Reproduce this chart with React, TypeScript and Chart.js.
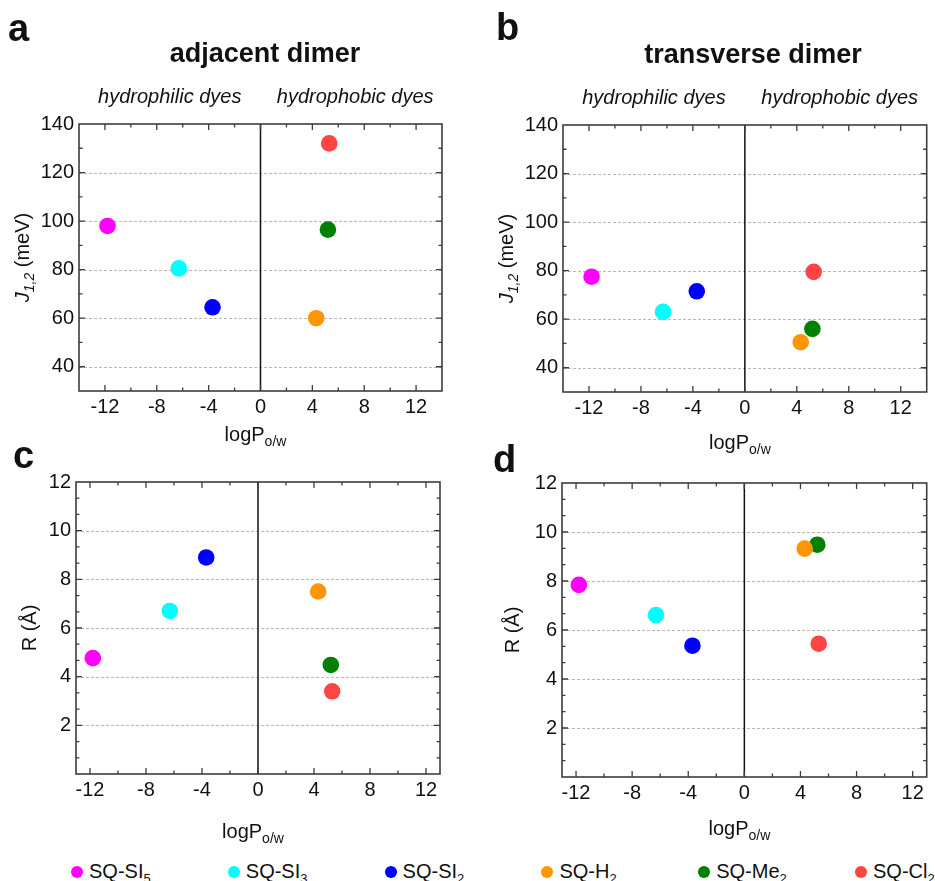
import React, { useEffect, useRef } from 'react';
import { Chart, registerables } from 'chart.js';

Chart.register(...registerables);

const FONT = '"Liberation Sans", Arial, Helvetica, sans-serif';

// ---- data ----
const dyeBase = ['SQ-SI', 'SQ-SI', 'SQ-SI', 'SQ-H', 'SQ-Me', 'SQ-Cl'];
const dyeSub = ['5', '3', '2', '2', '2', '2'];
const dyeColors = ['#ff00ff', '#00ffff', '#0000ff', '#ff9500', '#008000', '#ff4444'];
const logP = [-11.8, -6.3, -3.7, 4.3, 5.2, 5.3];
const jAdjacent = [98, 80.5, 64.5, 60, 96.5, 132];
const jTransverse = [77.5, 63, 71.5, 50.5, 56, 79.5];
const rAdjacent = [4.76, 6.7, 8.9, 7.5, 4.48, 3.4];
const rTransverse = [7.84, 6.61, 5.36, 9.32, 9.48, 5.44];

const xTicks = [-12, -8, -4, 0, 4, 8, 12];
const jTicks = [40, 60, 80, 100, 120, 140];
const rTicks = [2, 4, 6, 8, 10, 12];
const regionLabels = ['hydrophilic dyes', 'hydrophobic dyes'];
const regionCenters = [-7, 7.3];

type Box = { left: number; top: number; width: number; height: number };
type Area = { left: number; top: number; right: number; bottom: number };
type PanelSpec = {
  key: string;
  letter: string;
  title?: string;
  values: number[];
  yKind: 'J' | 'R';
  yTicks: number[];
  yMin: number;
  yMax: number;
  yMinorCount: number;
  xMin: number;
  xMax: number;
  canvas: Box;
  area: Area;
  letterPos: [number, number];
  titlePos?: [number, number];
  xTitleY: number;
  yTitleOffset: number;
};

const panels: PanelSpec[] = [
  {
    key: 'a', letter: 'a', title: 'adjacent dimer', values: jAdjacent, yKind: 'J',
    yTicks: jTicks, yMin: 30, yMax: 140, yMinorCount: 1, xMin: -14, xMax: 14,
    canvas: { left: 0, top: 0, width: 470, height: 455 },
    area: { left: 79, top: 124, right: 442, bottom: 391 },
    letterPos: [8, 41], titlePos: [265, 62], xTitleY: 441, yTitleOffset: 50,
  },
  {
    key: 'b', letter: 'b', title: 'transverse dimer', values: jTransverse, yKind: 'J',
    yTicks: jTicks, yMin: 30, yMax: 140, yMinorCount: 1, xMin: -14, xMax: 14,
    canvas: { left: 470, top: 0, width: 465, height: 455 },
    area: { left: 93, top: 125, right: 457, bottom: 392 },
    letterPos: [26, 40], titlePos: [283, 63], xTitleY: 449, yTitleOffset: 50,
  },
  {
    key: 'c', letter: 'c', values: rAdjacent, yKind: 'R',
    yTicks: rTicks, yMin: 0, yMax: 12, yMinorCount: 2, xMin: -13, xMax: 13,
    canvas: { left: 0, top: 440, width: 470, height: 405 },
    area: { left: 76, top: 42, right: 440, bottom: 334 },
    letterPos: [13, 28], xTitleY: 398, yTitleOffset: 40,
  },
  {
    key: 'd', letter: 'd', values: rTransverse, yKind: 'R',
    yTicks: rTicks, yMin: 0, yMax: 12, yMinorCount: 2, xMin: -13, xMax: 13,
    canvas: { left: 470, top: 440, width: 465, height: 405 },
    area: { left: 92, top: 43, right: 457, bottom: 337 },
    letterPos: [23, 32], xTitleY: 395, yTitleOffset: 43,
  },
];

type Seg = { t: string; size: number; style?: string; weight?: string; dy?: number };

function fontOf(s: Seg) {
  return `${s.style || 'normal'} ${s.weight || 'normal'} ${s.size}px ${FONT}`;
}

function drawRich(ctx: CanvasRenderingContext2D, segs: Seg[], x: number, y: number, align: 'center' | 'left', rot = 0) {
  ctx.save();
  ctx.translate(x, y);
  ctx.rotate(rot);
  ctx.textBaseline = 'alphabetic';
  ctx.textAlign = 'left';
  ctx.fillStyle = '#111';
  const widths = segs.map((s) => {
    ctx.font = fontOf(s);
    return ctx.measureText(s.t).width;
  });
  const total = widths.reduce((a, b) => a + b, 0);
  let cx = align === 'center' ? -total / 2 : 0;
  segs.forEach((s, i) => {
    ctx.font = fontOf(s);
    ctx.fillText(s.t, cx, s.dy || 0);
    cx += widths[i];
  });
  ctx.restore();
}

function minorValues(majors: number[], count: number, min: number, max: number) {
  const step = majors[1] - majors[0];
  const sub = step / (count + 1);
  const out: number[] = [];
  for (let k = -40; k < 200; k++) {
    if (k % (count + 1) === 0) continue;
    const v = majors[0] + k * sub;
    if (v >= min - 1e-9 && v <= max + 1e-9) out.push(v);
  }
  return out;
}

function framePlugin(p: PanelSpec) {
  return {
    id: 'frame_' + p.key,
    beforeDatasetsDraw(chart: any) {
      const { ctx, chartArea: a, scales } = chart;
      const ys = scales.y;
      const xs = scales.x;
      ctx.save();
      ctx.strokeStyle = '#b8b8b8';
      ctx.lineWidth = 1;
      ctx.setLineDash([3, 2]);
      p.yTicks.forEach((v) => {
        const py = Math.round(ys.getPixelForValue(v)) + 0.5;
        if (py > a.top + 2 && py < a.bottom - 2) {
          ctx.beginPath();
          ctx.moveTo(a.left, py);
          ctx.lineTo(a.right, py);
          ctx.stroke();
        }
      });
      ctx.setLineDash([]);
      ctx.strokeStyle = '#111';
      ctx.lineWidth = 1.5;
      const x0 = xs.getPixelForValue(0);
      ctx.beginPath();
      ctx.moveTo(x0, a.top);
      ctx.lineTo(x0, a.bottom);
      ctx.stroke();
      ctx.restore();
    },
    afterDatasetsDraw(chart: any) {
      const { ctx, chartArea: a, scales } = chart;
      const xs = scales.x;
      const ys = scales.y;
      ctx.save();
      ctx.strokeStyle = '#3c3c3c';
      ctx.lineWidth = 1.6;
      ctx.strokeRect(a.left, a.top, a.right - a.left, a.bottom - a.top);
      const drawX = (vals: number[], len: number) => {
        vals.forEach((v) => {
          const px = xs.getPixelForValue(v);
          if (px < a.left + 1 || px > a.right - 1) return;
          ctx.beginPath();
          ctx.moveTo(px, a.bottom);
          ctx.lineTo(px, a.bottom - len);
          ctx.moveTo(px, a.top);
          ctx.lineTo(px, a.top + len);
          ctx.stroke();
        });
      };
      const drawY = (vals: number[], len: number) => {
        vals.forEach((v) => {
          const py = ys.getPixelForValue(v);
          if (py < a.top + 1 || py > a.bottom - 1) return;
          ctx.beginPath();
          ctx.moveTo(a.left, py);
          ctx.lineTo(a.left + len, py);
          ctx.moveTo(a.right, py);
          ctx.lineTo(a.right - len, py);
          ctx.stroke();
        });
      };
      ctx.lineWidth = 1.3;
      drawX(xTicks, 6);
      drawX(minorValues(xTicks, 1, p.xMin, p.xMax), 3.5);
      drawY(p.yTicks, 6);
      drawY(minorValues(p.yTicks, p.yMinorCount, p.yMin, p.yMax), 3.5);
      ctx.restore();
    },
    afterDraw(chart: any) {
      const { ctx, chartArea: a, scales } = chart;
      const xs = scales.x;
      const cx = (a.left + a.right) / 2;
      const cy = (a.top + a.bottom) / 2;
      // panel letter
      drawRich(ctx, [{ t: p.letter, size: 38, weight: 'bold' }], p.letterPos[0], p.letterPos[1], 'left');
      if (p.title && p.titlePos) {
        drawRich(ctx, [{ t: p.title, size: 27, weight: 'bold' }], p.titlePos[0], p.titlePos[1], 'center');
        regionLabels.forEach((lab, i) => {
          drawRich(ctx, [{ t: lab, size: 20, style: 'italic' }], xs.getPixelForValue(regionCenters[i]), a.top - 21, 'center');
        });
      }
      // x title
      drawRich(
        ctx,
        [
          { t: 'logP', size: 20 },
          { t: 'o/w', size: 14, dy: 5 },
        ],
        cx - 5,
        p.xTitleY,
        'center'
      );
      // y title
      const ySegs: Seg[] =
        p.yKind === 'J'
          ? [
              { t: 'J', size: 20, style: 'italic' },
              { t: '1,2', size: 14, style: 'italic', dy: 5 },
              { t: ' (meV)', size: 20 },
            ]
          : [{ t: 'R (\u00c5)', size: 20 }];
      drawRich(ctx, ySegs, a.left - p.yTitleOffset, cy, 'center', -Math.PI / 2);
    },
  };
}

function buildConfig(p: PanelSpec): any {
  const datasets = logP.map((x, i) => ({
    label: dyeBase[i] + dyeSub[i],
    data: [{ x, y: p.values[i] }],
    backgroundColor: dyeColors[i],
    borderColor: dyeColors[i],
    borderWidth: 0,
    pointRadius: 8.3,
    pointHoverRadius: 8.3,
  }));
  const tickFont = { family: FONT, size: 20 };
  return {
    type: 'scatter',
    data: { datasets },
    options: {
      animation: false,
      responsive: false,
      maintainAspectRatio: false,
      events: [],
      layout: {
        padding: { left: 0, top: p.area.top, right: p.canvas.width - p.area.right, bottom: 0 },
      },
      plugins: { legend: { display: false }, tooltip: { enabled: false }, title: { display: false } },
      scales: {
        x: {
          type: 'linear',
          position: 'bottom',
          min: p.xMin,
          max: p.xMax,
          afterBuildTicks: (s: any) => {
            s.ticks = xTicks.map((v) => ({ value: v }));
          },
          afterFit: (s: any) => {
            s.height = p.canvas.height - p.area.bottom;
          },
          grid: { display: false, drawTicks: false },
          border: { display: false },
          ticks: {
            font: tickFont,
            color: '#111',
            padding: 4,
            maxRotation: 0,
            autoSkip: false,
            callback: (v: any) => String(v),
          },
        },
        y: {
          type: 'linear',
          position: 'left',
          min: p.yMin,
          max: p.yMax,
          afterBuildTicks: (s: any) => {
            s.ticks = p.yTicks.map((v) => ({ value: v }));
          },
          afterFit: (s: any) => {
            s.width = p.area.left;
          },
          grid: { display: false, drawTicks: false },
          border: { display: false },
          ticks: {
            font: tickFont,
            color: '#111',
            padding: 5,
            autoSkip: false,
            callback: (v: any) => String(v),
          },
        },
      },
    },
    plugins: [framePlugin(p)],
  };
}

function PanelChart({ p }: { p: PanelSpec }) {
  const ref = useRef<HTMLCanvasElement>(null);
  useEffect(() => {
    if (!ref.current) return;
    const chart = new Chart(ref.current, buildConfig(p));
    return () => chart.destroy();
  }, [p]);
  return (
    <canvas
      ref={ref}
      width={p.canvas.width}
      height={p.canvas.height}
      style={{
        position: 'absolute',
        left: p.canvas.left,
        top: p.canvas.top,
        width: p.canvas.width,
        height: p.canvas.height,
      }}
    />
  );
}

function Legend() {
  return (
    <>
      {dyeBase.map((base, i) => {
        const cx = 77 + i * 156.8;
        return (
          <React.Fragment key={i}>
            <span
              style={{
                position: 'absolute',
                left: cx - 6,
                top: 866,
                width: 12,
                height: 12,
                borderRadius: '50%',
                background: dyeColors[i],
              }}
            />
            <span
              style={{
                position: 'absolute',
                left: cx + 12,
                top: 861,
                fontFamily: FONT,
                fontSize: 20,
                lineHeight: '20px',
                color: '#111',
                whiteSpace: 'nowrap',
              }}
            >
              {base}
              <span style={{ fontSize: 13, position: 'relative', top: 5 }}>{dyeSub[i]}</span>
            </span>
          </React.Fragment>
        );
      })}
    </>
  );
}

export default function App() {
  return (
    <div
      style={{
        position: 'absolute',
        left: 0,
        top: 0,
        width: 935,
        height: 881,
        background: '#fff',
        overflow: 'hidden',
      }}
    >
      {panels.map((p) => (
        <PanelChart key={p.key} p={p} />
      ))}
      <Legend />
    </div>
  );
}
